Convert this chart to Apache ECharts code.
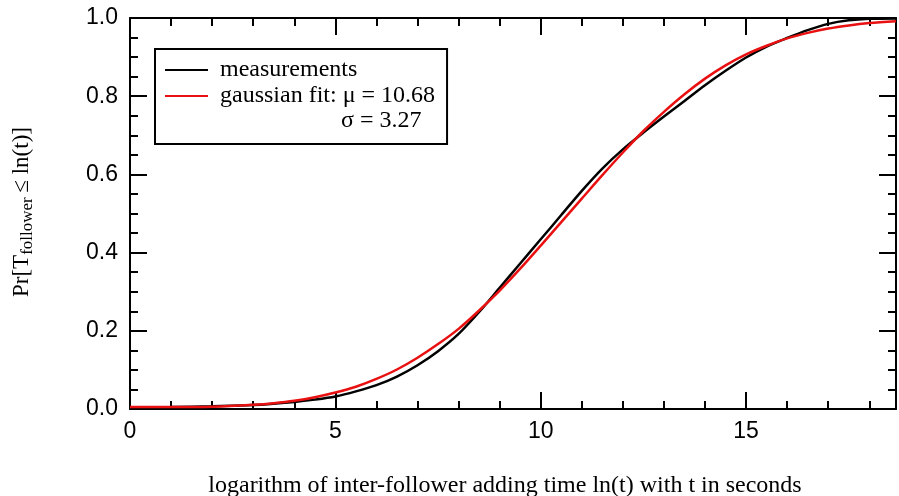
<!DOCTYPE html>
<html>
<head>
<meta charset="utf-8">
<script src="https://cdn.jsdelivr.net/npm/echarts@6/dist/echarts.min.js"></script>
<style>
html,body{margin:0;padding:0;background:#fff;}
#chart{width:899px;height:496px;}
</style>
</head>
<body>
<div id="chart"></div>
<script>
// measured CDF (black)
const xMeas = [0,1,2,3,4,4.5,5,5.5,6,6.5,7,7.5,8,8.5,9,9.5,10,10.5,11,11.5,12,12.5,13,13.5,14,14.5,15,15.5,16,16.5,17,17.5,18,18.65];
const yMeas = [0.004,0.005,0.007,0.010,0.018,0.024,0.032,0.045,0.061,0.083,0.112,0.148,0.192,0.248,0.310,0.372,0.434,0.496,0.558,0.615,0.664,0.707,0.748,0.788,0.828,0.865,0.899,0.927,0.949,0.969,0.985,0.994,0.998,0.999];
// gaussian fit (red)
const xFit = [0,1,2,3,3.5,4,4.5,5,5.5,6,6.5,7,7.5,8,8.5,9,9.5,10,10.5,11,11.5,12,12.5,13,13.5,14,14.5,15,15.5,16,16.5,17,17.5,18,18.65];
const yFit = [0.005,0.005,0.006,0.011,0.015,0.021,0.030,0.042,0.057,0.077,0.101,0.131,0.166,0.205,0.252,0.303,0.359,0.418,0.478,0.538,0.598,0.656,0.711,0.760,0.805,0.845,0.879,0.907,0.929,0.948,0.962,0.973,0.981,0.987,0.992];
const xTicks = [0,5,10,15];
const yTicks = [0.0,0.2,0.4,0.6,0.8,1.0];
const seriesNames = ['measurements','gaussian fit: \u03bc = 10.68'];
const sigmaText = '\u03c3 = 3.27';
const xTitle = 'logarithm of inter-follower adding time ln(t) with t in seconds';

const serif = 'Liberation Serif';
const sans = 'Liberation Sans';
const chart = echarts.init(document.getElementById('chart'), null, {renderer:'canvas'});

function xAxisDef(pos, labels){
  return {
    type:'value', position:pos, min:0, max:18.65, interval:5,
    axisLine:{show:true, onZero:false, lineStyle:{color:'#000', width:2}},
    axisTick:{show:true, inside:true, length:17, lineStyle:{color:'#000', width:2}},
    minorTick:{show:true, splitNumber:5, length:8, lineStyle:{color:'#000', width:2}},
    splitLine:{show:false},
    axisLabel:{show:labels, margin:11, color:'#000', fontFamily:sans, fontSize:23,
      formatter:function(v){ return xTicks.indexOf(v) >= 0 ? String(v) : ''; }}
  };
}
function yAxisDef(pos, labels){
  return {
    type:'value', position:pos, min:0, max:1, interval:0.2,
    axisLine:{show:true, onZero:false, lineStyle:{color:'#000', width:2}},
    axisTick:{show:true, inside:true, length:17, lineStyle:{color:'#000', width:2}},
    minorTick:{show:true, splitNumber:4, length:8, lineStyle:{color:'#000', width:2}},
    splitLine:{show:false},
    axisLabel:{show:labels, margin:12, color:'#000', fontFamily:sans, fontSize:23,
      formatter:function(v){ return v.toFixed(1); }}
  };
}

chart.setOption({
  animation:false,
  backgroundColor:'#fff',
  grid:{left:130, right:1, top:18, bottom:87, containLabel:false},
  xAxis:[xAxisDef('bottom', true), xAxisDef('top', false)],
  yAxis:[yAxisDef('left', true), yAxisDef('right', false)],
  legend:{
    show:true, orient:'vertical', left:155, top:49,
    data:seriesNames,
    icon:'rect',
    backgroundColor:'#fff',
    borderColor:'#000', borderWidth:2,
    padding:[9,12,36,10],
    itemGap:2, itemWidth:43, itemHeight:2,
    textStyle:{color:'#000', fontFamily:serif, fontSize:24, lineHeight:24, padding:[0,0,0,7]}
  },
  graphic:[
    {type:'text', left:341, top:109, z:100,
     style:{text:sigmaText, fontFamily:serif, fontSize:24, fill:'#000'}},
    {type:'text', x:505, y:486, z:100,
     style:{text:xTitle, fontFamily:serif, fontSize:24, fill:'#000', align:'center', verticalAlign:'middle'}},
    {type:'text', x:22, y:212, rotation:Math.PI/2, z:100,
     style:{text:'{a|Pr[T}{b|follower}{a|\u2009\u2264 ln(t)]}', align:'center', verticalAlign:'middle',
       rich:{a:{fontFamily:serif, fontSize:23, fill:'#000'},
             b:{fontFamily:serif, fontSize:17, fill:'#000', padding:[12,0,0,0]}}}}
  ],
  series:[
    {name:seriesNames[0], type:'line', xAxisIndex:0, yAxisIndex:0, showSymbol:false, symbol:'none',
     smooth:0.3, lineStyle:{color:'#000', width:2.5}, itemStyle:{color:'#000'},
     data:xMeas.map(function(x,i){return [x, yMeas[i]];})},
    {name:seriesNames[1], type:'line', xAxisIndex:0, yAxisIndex:0, showSymbol:false, symbol:'none',
     smooth:0.3, lineStyle:{color:'#e81010', width:2.5}, itemStyle:{color:'#e81010'},
     data:xFit.map(function(x,i){return [x, yFit[i]];})}
  ]
});
</script>
</body>
</html>
